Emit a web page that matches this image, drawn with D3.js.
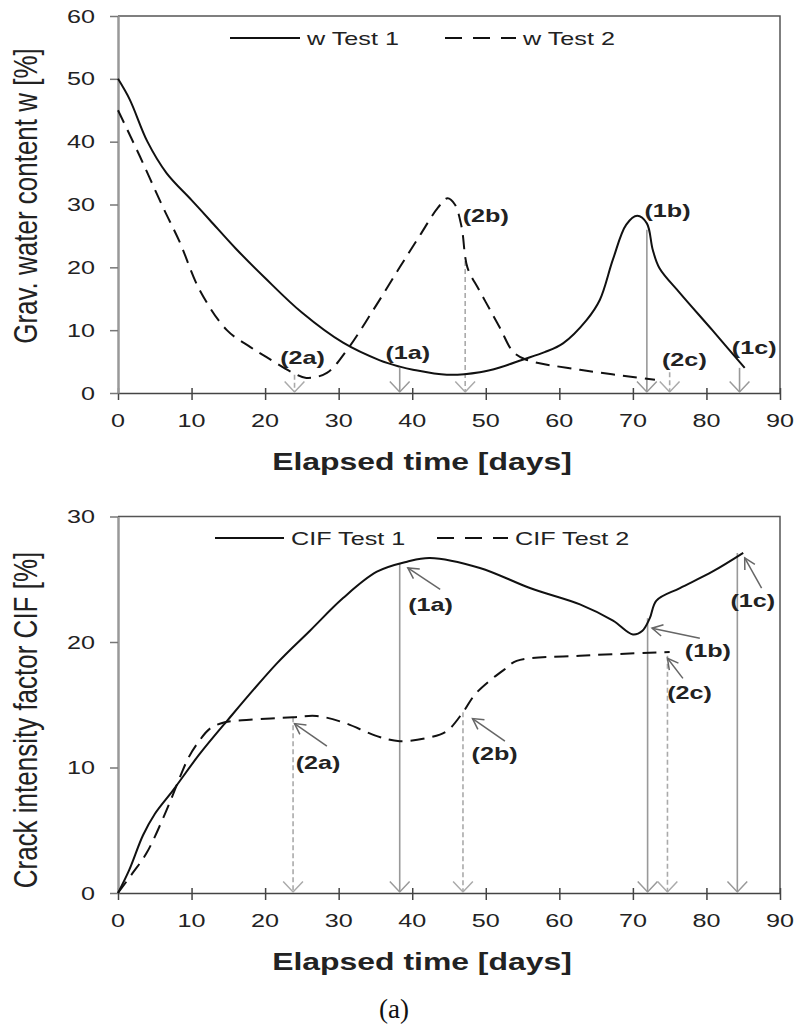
<!DOCTYPE html>
<html>
<head>
<meta charset="utf-8">
<script src="https://cdn.jsdelivr.net/npm/d3@7"></script>
<style>
body { margin: 0; background: #fff; }
text { font-family: "Liberation Sans", Arial, sans-serif; }
</style>
</head>
<body>
<script>
// values (days, %)
var wTest1Days = [0, 1.6, 4, 6.6, 10, 12.5, 16, 20, 25, 30.6, 35.6, 38.3, 40.1, 44.7, 49.2, 52, 55, 58, 60.5, 63.7, 65.5, 67.3, 69.1, 70.6, 71.9, 72.7, 73.6, 76.4, 80.8, 85.2];
var wTest1 = [50, 46.7, 40, 35, 30.7, 27.5, 23, 18.3, 12.8, 8, 5.2, 4.2, 3.7, 2.9, 3.3, 4.1, 5.3, 6.5, 7.9, 11.6, 14.8, 21.3, 26.8, 28.2, 27, 22.8, 19.9, 15.9, 10, 4];

var wTest2Days = [0, 3, 6.1, 8.4, 11.1, 14.8, 18, 20.2, 23.8, 25.6, 28.4, 31.1, 34.7, 38.3, 41, 43.5, 44.8, 45.8, 46.7, 47.5, 49, 50.5, 52, 53.7, 55.5, 62.8, 73];
var wTest2 = [45, 37.6, 29.6, 24, 16.4, 10, 7.3, 5.7, 3.2, 2.4, 3.2, 6.8, 13.2, 20, 25, 29.5, 31, 30, 26.5, 20, 16.6, 13.4, 10.2, 6.6, 5.3, 3.7, 2.1];

var cifTest1Days = [0, 1.5, 3.4, 5, 7.5, 11, 14.8, 21.6, 26.1, 30.6, 35.2, 39.3, 42.4, 49.2, 56, 62.8, 67.3, 70, 71.3, 72.3, 73.2, 76.4, 80.8, 85];
var cifTest1 = [0, 1.8, 4.6, 6.3, 8.2, 11, 13.7, 18.3, 20.9, 23.5, 25.6, 26.4, 26.7, 25.9, 24.3, 23, 21.7, 20.6, 20.9, 21.9, 23.3, 24.3, 25.6, 27.1];

var cifTest2Days = [0, 2, 3.9, 6.6, 8.4, 9.6, 10.9, 12.5, 14.5, 17.9, 23.8, 27, 30.6, 35.2, 38.3, 42.4, 44.7, 46.9, 48.5, 50.5, 52.5, 54.2, 62.8, 75];
var cifTest2 = [0, 1.6, 3.2, 6.6, 9.2, 10.8, 12.0, 13.1, 13.6, 13.8, 14, 14.1, 13.6, 12.5, 12.1, 12.4, 12.9, 14.4, 15.8, 16.9, 17.8, 18.5, 18.9, 19.2];

var xTicks = [0, 10, 20, 30, 40, 50, 60, 70, 80, 90];
var wTicks = [0, 10, 20, 30, 40, 50, 60];
var cifTicks = [0, 10, 20, 30];

// stages: label, test (1/2), day, value on the curve, label day/value
var wStages = ["(2a)", "(1a)", "(2b)", "(1b)", "(2c)", "(1c)"];
var wStageTest = [2, 1, 2, 1, 2, 1];
var wStageDay = [24, 38.3, 47.2, 71.9, 75, 84.5];
var wStageVal = [2.9, 4.0, 21, 26, 3.3, 4.0];
var wLabelDay = [25.1, 39.4, 50.0, 74.7, 77.0, 86.5];
var wLabelVal = [5.6, 6.4, 28.3, 29.1, 5.3, 7.3];

var cifStages = ["(2a)", "(1a)", "(2b)", "(1b)", "(2c)", "(1c)"];
var cifStageTest = [2, 1, 2, 1, 2, 1];
var cifStageDay = [23.8, 38.3, 46.9, 72, 74.7, 84.2];
var cifStageVal = [14.0, 26.3, 14.4, 21.9, 18.9, 27.1];
var cifLabelDay = [27.2, 42.5, 51.2, 80.2, 77.7, 86.3];
var cifLabelVal = [10.4, 23.0, 11.1, 19.3, 16.0, 23.3];
var cifTailDay = [28.4, 43.8, 52.6, 79.1, 76.8, 87.5];
var cifTailVal = [11.7, 24.2, 12.1, 20.3, 17.1, 24.3];
var cifHeadDay = [24.0, 39.4, 48.2, 72.6, 74.7, 85.2];
var cifHeadVal = [13.5, 25.9, 13.9, 21.1, 18.7, 26.7];

var width = 798, height = 1027;
var left = 118, right = 780;
var sx = 1.4;   // the original figure is stretched sideways

var svg = d3.select("body").append("svg")
  .attr("width", width)
  .attr("height", height);

var x = d3.scaleLinear().domain([0, 90]).range([left, right]);

function stretched(g, txt, px, py, size, anchor, weight, k) {
  return g.append("text")
    .attr("transform", "translate(" + px + "," + py + ") scale(" + (k || sx) + ",1)")
    .attr("text-anchor", anchor)
    .style("font-size", size + "px")
    .style("font-weight", weight || "normal")
    .style("fill", "#222")
    .text(txt);
}

function arrowHead(g, x1, y1, x2, y2, len, spread, color) {
  var a = Math.atan2(y2 - y1, x2 - x1);
  var p1 = [x2 - len * Math.cos(a - spread), y2 - len * Math.sin(a - spread)];
  var p2 = [x2 - len * Math.cos(a + spread), y2 - len * Math.sin(a + spread)];
  g.append("path")
    .attr("d", "M" + p1 + "L" + x2 + "," + y2 + "L" + p2)
    .style("fill", "none")
    .style("stroke", color)
    .style("stroke-width", 1.5);
}

function panel(p) {
  var g = svg.append("g");
  var y = d3.scaleLinear().domain(p.yDomain).range([p.bottom, p.top]);

  // frame: top and right edges
  g.append("path")
    .attr("d", "M" + left + "," + p.top + "H" + right + "V" + p.bottom)
    .style("fill", "none").style("stroke", "#555").style("stroke-width", 1.5);

  // x axis, ticks cross the line
  var xa = g.append("g")
    .attr("transform", "translate(0," + p.bottom + ")")
    .call(d3.axisBottom(x).tickValues(xTicks).tickSize(7).tickSizeOuter(0).tickFormat(""));
  xa.select(".domain").style("stroke", "#444").style("stroke-width", 1.5);
  xa.selectAll(".tick line").attr("y1", -5).style("stroke", "#444").style("stroke-width", 1.5);
  xTicks.forEach(function(t) {
    stretched(g, t, x(t), p.bottom + 34, 18, "middle");
  });

  // y axis
  var ya = g.append("g")
    .attr("transform", "translate(" + left + ",0)")
    .call(d3.axisLeft(y).tickValues(p.yTicks).tickSize(8).tickSizeOuter(0).tickFormat(""));
  ya.select(".domain").style("stroke", "#999").style("stroke-width", 2.5);
  ya.selectAll(".tick line").style("stroke", "#777").style("stroke-width", 1.5);
  p.yTicks.forEach(function(t) {
    stretched(g, t, 95, y(t) + 6.5, 18, "end");
  });

  // axis titles
  stretched(g, "Elapsed time [days]", 422, p.bottom + 77, 24, "middle", "bold", 1.33);
  g.append("text")
    .attr("transform", "translate(37," + p.yMid + ") scale(1.3,1) rotate(-90)")
    .attr("text-anchor", "middle")
    .style("font-size", "26px")
    .style("fill", "#222")
    .text(p.yTitle);

  // stage markers: grey drop lines to the time axis
  p.stages.forEach(function(lab, i) {
    var dash = p.stageTest[i] === 2;
    var col = dash ? "#aaa" : "#999";
    var xx = x(p.stageDay[i]);
    g.append("line")
      .attr("x1", xx).attr("x2", xx)
      .attr("y1", y(p.stageVal[i])).attr("y2", p.bottom - 1)
      .style("stroke", col).style("stroke-width", 1.6)
      .style("stroke-dasharray", dash ? "5,3" : null);
    arrowHead(g, xx, p.bottom - 30, xx, p.bottom - 1, 14.5, 0.75, col);
    if (p.tailDay) {
      var hx = x(p.headDay[i]), hy = y(p.headVal[i]);
      g.append("line")
        .attr("x1", x(p.tailDay[i])).attr("y1", y(p.tailVal[i]))
        .attr("x2", hx).attr("y2", hy)
        .style("stroke", "#666").style("stroke-width", 1.5);
      arrowHead(g, x(p.tailDay[i]), y(p.tailVal[i]), hx, hy, 12, 0.5, "#666");
    }
    stretched(g, lab, x(p.labelDay[i]), y(p.labelVal[i]) + 6.5, 18, "middle", "bold");
  });

  // curves
  var line = d3.line()
    .x(function(d) { return x(d[0]); })
    .y(function(d) { return y(d[1]); })
    .curve(d3.curveCatmullRom.alpha(0.5));
  p.series.forEach(function(s) {
    g.append("path")
      .datum(d3.zip(s.days, s.vals))
      .attr("d", line)
      .style("fill", "none")
      .style("stroke", "#111")
      .style("stroke-width", 2)
      .style("stroke-dasharray", s.dash ? "14,8" : null);
  });

  // legend
  p.legend.forEach(function(l) {
    g.append("line")
      .attr("x1", l.x1).attr("x2", l.x2)
      .attr("y1", p.legendY).attr("y2", p.legendY)
      .style("stroke", "#111").style("stroke-width", 2)
      .style("stroke-dasharray", l.dash ? "17,11" : null);
    stretched(g, l.text, l.x2 + 7, p.legendY + 7, 18, "start");
  });
}

panel({
  top: 16, bottom: 393, yDomain: [0, 60], yTicks: wTicks,
  yTitle: "Grav. water content w [%]", yMid: 196,
  series: [
    { days: wTest1Days, vals: wTest1, dash: false },
    { days: wTest2Days, vals: wTest2, dash: true }
  ],
  stages: wStages, stageTest: wStageTest, stageDay: wStageDay, stageVal: wStageVal,
  labelDay: wLabelDay, labelVal: wLabelVal,
  legendY: 38,
  legend: [
    { text: "w Test 1", x1: 230, x2: 300, dash: false },
    { text: "w Test 2", x1: 445, x2: 516, dash: true }
  ]
});

panel({
  top: 516.5, bottom: 893, yDomain: [0, 30], yTicks: cifTicks,
  yTitle: "Crack intensity factor CIF [%]", yMid: 720,
  series: [
    { days: cifTest1Days, vals: cifTest1, dash: false },
    { days: cifTest2Days, vals: cifTest2, dash: true }
  ],
  stages: cifStages, stageTest: cifStageTest, stageDay: cifStageDay, stageVal: cifStageVal,
  labelDay: cifLabelDay, labelVal: cifLabelVal,
  tailDay: cifTailDay, tailVal: cifTailVal, headDay: cifHeadDay, headVal: cifHeadVal,
  legendY: 538,
  legend: [
    { text: "CIF Test 1", x1: 215, x2: 284, dash: false },
    { text: "CIF Test 2", x1: 437, x2: 508, dash: true }
  ]
});

// caption
svg.append("text")
  .attr("x", 394).attr("y", 1018)
  .attr("text-anchor", "middle")
  .style("font-family", "'Liberation Serif', 'DejaVu Serif', serif")
  .style("font-size", "27px")
  .style("fill", "#111")
  .text("(a)");
</script>
</body>
</html>
